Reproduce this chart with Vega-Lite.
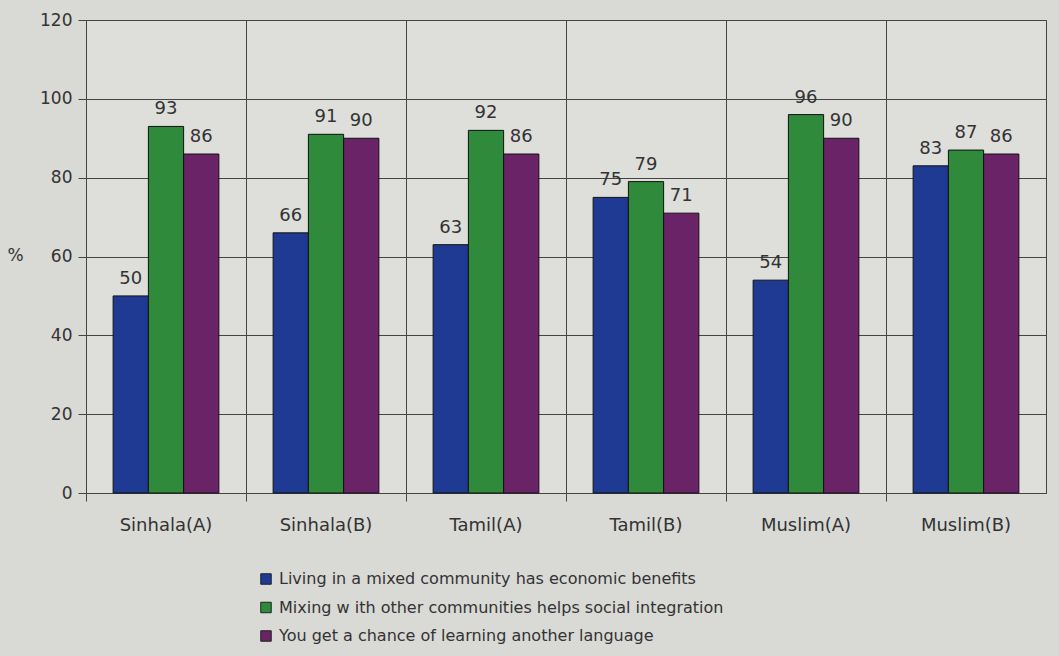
{
  "$schema": "https://vega.github.io/schema/vega-lite/v6.json",
  "autosize": {"type": "none"},
  "width": 960,
  "height": 473,
  "padding": {"left": 86, "top": 20, "right": 13, "bottom": 163},
  "background": "#d9d9d6",
  "config": {
    "font": "DejaVu Sans",
    "view": {"fill": "#dededb", "stroke": "#444", "strokeWidth": 1}
  },
  "data": {
    "values": [
      {"group": "Sinhala(A)", "series": "Living in a mixed community has economic benefits", "value": 50},
      {"group": "Sinhala(A)", "series": "Mixing w ith other communities helps social integration", "value": 93},
      {"group": "Sinhala(A)", "series": "You get a chance of learning another language", "value": 86},
      {"group": "Sinhala(B)", "series": "Living in a mixed community has economic benefits", "value": 66},
      {"group": "Sinhala(B)", "series": "Mixing w ith other communities helps social integration", "value": 91},
      {"group": "Sinhala(B)", "series": "You get a chance of learning another language", "value": 90},
      {"group": "Tamil(A)", "series": "Living in a mixed community has economic benefits", "value": 63},
      {"group": "Tamil(A)", "series": "Mixing w ith other communities helps social integration", "value": 92},
      {"group": "Tamil(A)", "series": "You get a chance of learning another language", "value": 86},
      {"group": "Tamil(B)", "series": "Living in a mixed community has economic benefits", "value": 75},
      {"group": "Tamil(B)", "series": "Mixing w ith other communities helps social integration", "value": 79},
      {"group": "Tamil(B)", "series": "You get a chance of learning another language", "value": 71},
      {"group": "Muslim(A)", "series": "Living in a mixed community has economic benefits", "value": 54},
      {"group": "Muslim(A)", "series": "Mixing w ith other communities helps social integration", "value": 96},
      {"group": "Muslim(A)", "series": "You get a chance of learning another language", "value": 90},
      {"group": "Muslim(B)", "series": "Living in a mixed community has economic benefits", "value": 83},
      {"group": "Muslim(B)", "series": "Mixing w ith other communities helps social integration", "value": 87},
      {"group": "Muslim(B)", "series": "You get a chance of learning another language", "value": 86}
    ]
  },
  "encoding": {
    "x": {
      "field": "group", "type": "nominal", "sort": null,
      "scale": {"paddingInner": 0, "paddingOuter": 0},
      "axis": {
        "title": null, "labelAngle": 0, "labelFontSize": 18, "labelColor": "#333",
        "labelPadding": 15, "bandPosition": 0, "grid": true, "gridColor": "#444",
        "domainColor": "#444", "tickColor": "#444", "tickSize": 8
      }
    },
    "xOffset": {
      "field": "series", "type": "nominal", "sort": null,
      "scale": {"paddingInner": 0, "paddingOuter": 0.77}
    },
    "y": {
      "field": "value", "type": "quantitative",
      "scale": {"domain": [0, 120]},
      "axis": {
        "values": [0, 20, 40, 60, 80, 100, 120],
        "title": "%", "titleAngle": 0, "titleFontSize": 17, "titleFontWeight": "normal",
        "titleColor": "#333", "titleX": -79, "titleY": 244, "titleAlign": "left",
        "labelFontSize": 17, "labelColor": "#333", "labelPadding": 6,
        "gridColor": "#444", "domainColor": "#444", "tickColor": "#444", "tickSize": 8
      }
    }
  },
  "layer": [
    {
      "mark": {"type": "bar", "stroke": "#111", "strokeWidth": 1},
      "encoding": {
        "color": {
          "field": "series", "type": "nominal", "sort": null,
          "scale": {"range": ["#1e3a92", "#2f8a3c", "#6a2366"]},
          "legend": {
            "title": null, "orient": "none", "legendX": 172, "legendY": 551,
            "symbolType": "square", "symbolSize": 110, "symbolStrokeColor": "#222",
            "symbolStrokeWidth": 1, "labelFontSize": 16, "labelColor": "#333",
            "rowPadding": 12.5, "labelOffset": 5, "labelLimit": 700
          }
        }
      }
    },
    {
      "mark": {"type": "text", "baseline": "bottom", "dy": -8, "fontSize": 18, "color": "#333"},
      "encoding": {"text": {"field": "value", "type": "quantitative"}}
    }
  ]
}
